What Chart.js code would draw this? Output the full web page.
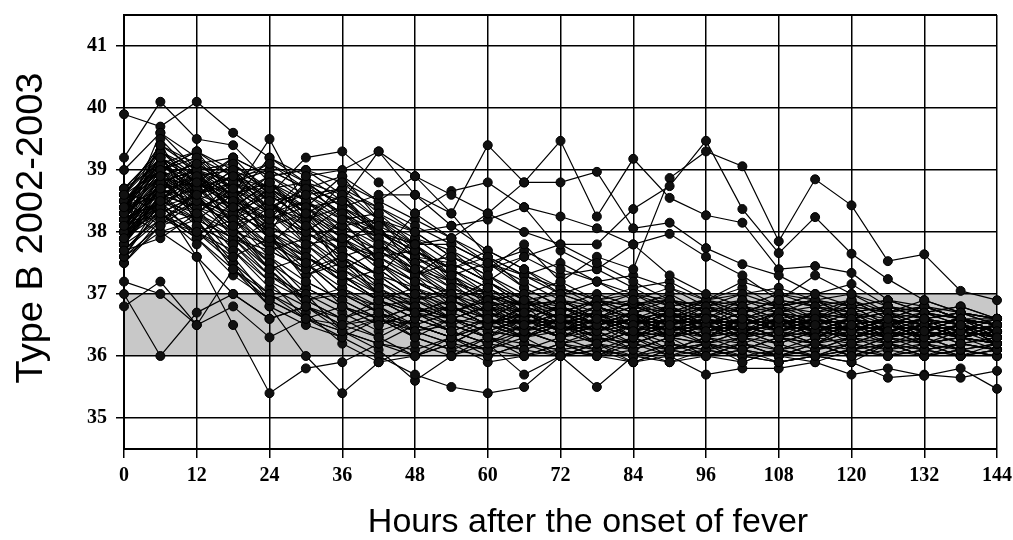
<!DOCTYPE html>
<html>
<head>
<meta charset="utf-8">
<script src="https://cdn.jsdelivr.net/npm/chart.js@4.4.1/dist/chart.umd.min.js"></script>
<style>
  html, body { margin: 0; padding: 0; background: #fff; }
  #wrap { width: 1013px; height: 540px; }
</style>
</head>
<body>
<div id="wrap"><canvas id="feverChart" width="1013" height="540"></canvas></div>
<script>
// 측정 시각 (발열 후 시간)
var hours = [0, 6, 12, 18, 24, 30, 36, 42, 48, 54, 60, 66, 72, 78, 84, 90, 96, 102, 108, 114, 120, 126, 132, 138, 144];
var xTicks = [0, 12, 24, 36, 48, 60, 72, 84, 96, 108, 120, 132, 144];
var yTicks = [35, 36, 37, 38, 39, 40, 41];
var xTitle = 'Hours after the onset of fever';
var yTitle = 'Type B 2002-2003';
var normalLow = 36;
var normalHigh = 37;

// 환자별 체온 (6시간 간격)
var pt01 = [38.1, 38.9, 38.3, 37.6, 36.9, 36.6, 36.8, 36.5, 36.7, 36.4, 36.6, 36.5, 36.3, 36.6, 36.4, 36.5, 36.3, 36.6, 36.4, 36.2, 36.5, 36.3, 36.4, 36.2, 36.3];
var pt02 = [38.4, 39.2, 38.8, 38.1, 37.4, 36.8, 36.5, 36.7, 36.3, 36.6, 36.8, 36.4, 36.6, 36.2, 36.5, 36.7, 36.4, 36.3, 36.6, 36.5, 36.2, 36.4, 36.3, 36.5, 36.4];
var pt03 = [37.9, 38.5, 39.1, 38.7, 38.0, 37.2, 36.9, 36.6, 36.8, 36.5, 36.3, 36.7, 36.5, 36.8, 36.6, 36.4, 36.6, 36.5, 36.3, 36.6, 36.4, 36.6, 36.2, 36.4, 36.5];
var pt04 = [38.6, 39.4, 38.6, 38.9, 38.5, 37.8, 37.3, 36.9, 36.6, 36.8, 36.5, 36.4, 36.7, 36.5, 36.3, 36.6, 36.5, 36.7, 36.4, 36.3, 36.5, 36.3, 36.6, 36.3, 36.2];
var pt05 = [37.7, 38.3, 37.8, 38.4, 38.8, 38.3, 37.6, 37.1, 36.7, 36.5, 36.7, 36.6, 36.4, 36.5, 36.7, 36.3, 36.4, 36.6, 36.5, 36.7, 36.4, 36.5, 36.4, 36.6, 36.3];
var pt06 = [38.3, 38.7, 39.2, 38.5, 38.9, 38.6, 38.2, 37.5, 37.0, 36.8, 36.6, 36.9, 36.5, 36.7, 36.4, 36.6, 36.3, 36.5, 36.6, 36.4, 36.6, 36.4, 36.5, 36.3, 36.4];
var pt07 = [38.0, 39.5, 38.9, 39.0, 38.3, 38.9, 38.5, 38.1, 37.4, 36.9, 36.7, 36.5, 36.8, 36.6, 36.5, 36.4, 36.6, 36.3, 36.5, 36.6, 36.3, 36.5, 36.6, 36.4, 36.5];
var pt08 = [38.5, 38.1, 38.5, 38.2, 38.7, 38.1, 38.8, 38.3, 37.8, 37.3, 36.8, 36.6, 36.4, 36.7, 36.5, 36.8, 36.5, 36.6, 36.4, 36.5, 36.7, 36.4, 36.3, 36.5, 36.2];
var pt09 = [37.6, 38.4, 38.0, 37.7, 37.2, 36.9, 36.6, 36.8, 36.4, 36.6, 36.3, 36.5, 36.7, 36.4, 36.6, 36.3, 36.5, 36.4, 36.6, 36.3, 36.4, 36.6, 36.5, 36.3, 36.4];
var pt10 = [38.2, 39.0, 39.3, 38.6, 37.9, 37.5, 37.0, 36.7, 36.5, 36.3, 36.5, 36.8, 36.6, 36.3, 36.5, 36.6, 36.4, 36.5, 36.3, 36.4, 36.6, 36.5, 36.3, 36.4, 36.3];
var pt11 = [38.7, 39.1, 38.7, 39.1, 38.6, 38.4, 37.9, 37.6, 37.2, 37.0, 36.7, 36.5, 36.6, 36.4, 36.7, 36.5, 36.3, 36.6, 36.5, 36.4, 36.5, 36.3, 36.4, 36.5, 36.4];
var pt12 = [37.8, 38.6, 38.4, 38.0, 38.4, 38.7, 38.3, 37.8, 37.5, 37.1, 36.9, 37.0, 36.7, 36.5, 36.6, 36.4, 36.6, 36.5, 36.7, 36.5, 36.3, 36.4, 36.6, 36.4, 36.5];
var pt13 = [38.3, 38.0, 37.6, 37.0, 36.6, 36.8, 36.4, 36.6, 36.5, 36.3, 36.6, 36.4, 36.5, 36.7, 36.3, 36.5, 36.6, 36.4, 36.5, 36.3, 36.6, 36.4, 36.5, 36.3, 36.2];
var pt14 = [38.0, 38.8, 39.0, 38.8, 39.1, 38.8, 38.6, 38.4, 38.0, 37.6, 37.3, 36.9, 36.6, 36.8, 36.5, 36.7, 36.5, 36.4, 36.6, 36.5, 36.4, 36.6, 36.3, 36.5, 36.3];
var pt15 = [38.4, 39.3, 38.1, 37.8, 38.2, 37.6, 37.2, 37.4, 37.0, 36.7, 36.5, 36.8, 36.4, 36.6, 36.9, 36.5, 36.7, 36.4, 36.5, 36.7, 36.4, 36.3, 36.5, 36.4, 36.6];
var pt16 = [37.5, 38.2, 38.6, 39.0, 38.5, 38.0, 37.7, 37.3, 36.9, 36.6, 36.8, 36.6, 36.3, 36.5, 36.6, 36.4, 36.5, 36.7, 36.4, 36.6, 36.5, 36.6, 36.4, 36.3, 36.4];
var pt17 = [38.6, 38.5, 39.0, 38.3, 37.7, 37.4, 36.8, 36.5, 36.7, 36.6, 36.4, 36.3, 36.5, 36.6, 36.4, 36.7, 36.4, 36.5, 36.7, 36.4, 36.3, 36.5, 36.6, 36.5, 36.3];
var pt18 = [38.2, 39.6, 39.2, 38.7, 38.1, 38.3, 37.9, 37.4, 37.0, 36.6, 36.4, 36.6, 36.8, 36.5, 36.3, 36.6, 36.7, 36.4, 36.6, 36.3, 36.5, 36.4, 36.5, 36.6, 36.5];
var pt19 = [37.9, 38.6, 38.9, 38.4, 38.8, 38.5, 38.7, 38.2, 37.7, 37.4, 37.1, 36.7, 36.5, 36.4, 36.6, 36.5, 36.3, 36.6, 36.5, 36.7, 36.4, 36.5, 36.3, 36.4, 36.3];
var pt20 = [38.5, 39.0, 38.4, 38.6, 37.9, 37.3, 37.6, 37.0, 36.7, 36.9, 36.6, 36.4, 36.6, 36.5, 36.7, 36.4, 36.6, 36.3, 36.4, 36.5, 36.6, 36.4, 36.5, 36.3, 36.4];
var pt21 = [38.1, 38.4, 38.2, 37.4, 37.0, 36.6, 36.5, 36.3, 36.6, 36.4, 36.2, 36.5, 36.3, 36.4, 36.5, 36.3, 36.4, 36.5, 36.3, 36.4, 36.5, 36.2, 36.3, 36.4, 36.2];
var pt22 = [38.3, 38.9, 39.1, 39.2, 38.9, 39.0, 38.6, 37.9, 37.3, 36.8, 36.5, 36.7, 36.4, 36.6, 36.3, 36.5, 36.6, 36.4, 36.5, 36.4, 36.3, 36.5, 36.4, 36.3, 36.5];
var pt23 = [37.7, 37.9, 38.3, 38.8, 38.3, 38.5, 38.1, 38.2, 37.6, 37.5, 37.2, 36.8, 36.9, 36.6, 36.5, 36.6, 36.5, 36.6, 36.4, 36.6, 36.5, 36.3, 36.5, 36.6, 36.4];
var pt24 = [38.0, 39.2, 38.5, 38.1, 37.5, 36.9, 37.1, 36.7, 36.4, 36.2, 36.5, 36.3, 36.6, 36.4, 36.2, 36.4, 36.5, 36.3, 36.6, 36.3, 36.5, 36.4, 36.2, 36.3, 36.5];
var pt25 = [38.4, 38.7, 38.8, 38.5, 38.3, 38.0, 38.4, 37.8, 37.3, 37.7, 37.2, 36.8, 36.6, 36.7, 36.4, 36.3, 36.5, 36.7, 36.5, 36.5, 36.4, 36.6, 36.4, 36.5, 36.4];
var pt26 = [37.6, 38.1, 38.7, 38.9, 38.6, 38.2, 37.5, 37.2, 36.8, 36.6, 36.4, 36.6, 36.5, 36.3, 36.5, 36.7, 36.4, 36.5, 36.3, 36.5, 36.6, 36.3, 36.4, 36.6, 36.3];
var pt27 = [38.6, 39.3, 39.0, 38.3, 38.6, 38.2, 37.8, 37.5, 37.1, 36.7, 36.9, 36.5, 36.7, 36.5, 36.6, 36.4, 36.6, 36.5, 36.6, 36.4, 36.6, 36.5, 36.4, 36.5, 36.3];
var pt28 = [38.2, 38.5, 37.9, 38.5, 38.0, 38.8, 38.2, 38.0, 37.8, 37.2, 36.7, 36.9, 36.6, 36.8, 36.6, 36.5, 36.3, 36.4, 36.6, 36.5, 36.4, 36.6, 36.5, 36.4, 36.6];
var pt29 = [37.8, 38.8, 38.6, 37.9, 37.3, 37.0, 36.7, 36.4, 36.6, 36.8, 36.5, 36.7, 36.4, 36.6, 36.4, 36.6, 36.5, 36.4, 36.5, 36.6, 36.4, 36.6, 36.5, 36.4, 36.3];
var pt30 = [38.5, 39.1, 38.6, 39.0, 38.5, 37.9, 37.4, 37.7, 37.4, 37.0, 36.6, 36.4, 36.6, 36.4, 36.6, 36.7, 36.5, 36.6, 36.4, 36.6, 36.5, 36.4, 36.5, 36.6, 36.4];
var pt31 = [39.9, 39.7, 40.1, 39.6, 39.2, 38.8, 38.4, 38.0, 37.6, 37.2, 36.9, 36.7, 36.8, 36.6, 36.5, 36.7, 36.6, 36.4, 36.5, 36.6, 36.4, 36.5, 36.3, 36.4, 36.3];
var pt32 = [39.2, 40.1, 39.5, 39.4, 38.8, 38.2, 37.4, 37.0, 36.8, 36.6, 36.5, 36.8, 36.6, 36.7, 36.4, 36.5, 36.6, 36.4, 36.7, 36.5, 36.3, 36.4, 36.5, 36.3, 36.4];
var pt33 = [39.0, 39.6, 39.0, 38.6, 39.5, 38.4, 38.9, 38.2, 37.8, 37.4, 37.0, 36.8, 36.6, 36.9, 36.7, 36.5, 36.8, 36.6, 36.4, 36.7, 36.6, 36.3, 36.5, 36.6, 36.4];
var pt34 = [38.7, 39.3, 38.8, 39.2, 38.6, 39.2, 39.3, 38.8, 38.3, 37.9, 37.5, 37.2, 36.9, 36.8, 36.6, 36.7, 36.5, 36.8, 36.6, 36.4, 36.5, 36.6, 36.4, 36.5, 36.2];
var pt35 = [38.4, 39.0, 39.3, 38.9, 39.0, 38.7, 38.5, 39.3, 38.9, 38.6, 38.3, 38.0, 37.8, 37.5, 37.2, 36.9, 36.8, 36.6, 36.5, 36.7, 36.6, 36.4, 36.5, 36.3, 36.4];
var pt36 = [38.0, 38.8, 38.4, 38.2, 37.8, 38.3, 38.0, 37.6, 38.3, 38.66, 38.8, 38.4, 38.25, 38.06, 37.8, 37.97, 37.6, 37.3, 36.9, 37.3, 37.0, 36.7, 36.5, 36.6, 36.4];
var pt37 = [37.8, 38.6, 38.9, 38.4, 38.2, 38.8, 38.4, 38.6, 38.6, 38.3, 39.4, 38.8, 38.8, 38.97, 38.06, 38.15, 37.74, 37.48, 37.3, 37.0, 37.16, 36.8, 36.6, 36.5, 36.4];
var pt38 = [38.2, 38.9, 38.6, 38.8, 38.4, 38.2, 38.6, 38.0, 37.8, 37.9, 38.3, 38.8, 39.47, 38.25, 39.18, 38.55, 38.27, 38.15, 37.4, 37.45, 37.34, 36.9, 36.7, 36.6, 36.5];
var pt39 = [38.3, 38.4, 38.9, 38.1, 38.5, 38.0, 37.6, 37.3, 37.9, 37.5, 37.2, 37.6, 37.8, 37.8, 38.37, 38.74, 39.47, 38.37, 37.66, 38.24, 37.65, 37.24, 36.9, 36.7, 36.6];
var pt40 = [38.1, 38.5, 38.2, 38.6, 38.1, 37.7, 38.2, 38.3, 38.0, 37.6, 37.4, 37.8, 37.2, 37.6, 37.4, 38.87, 39.3, 39.06, 37.85, 38.85, 38.43, 37.53, 37.64, 37.05, 36.9];
var pt41 = [38.5, 39.1, 38.7, 39.2, 38.9, 39.0, 38.8, 38.5, 38.9, 38.3, 37.6, 37.1, 36.8, 36.6, 36.7, 36.5, 36.4, 36.6, 36.5, 36.4, 36.5, 36.4, 36.3, 36.5, 36.4];
var pt42 = [38.0, 38.7, 39.0, 38.5, 39.2, 38.9, 39.0, 39.3, 38.6, 38.1, 37.7, 37.4, 37.0, 36.8, 36.6, 36.5, 36.7, 36.5, 36.4, 36.6, 36.4, 36.5, 36.6, 36.3, 36.5];
var pt43 = [37.9, 38.3, 38.0, 37.6, 37.9, 37.4, 37.8, 38.2, 38.0, 38.1, 38.2, 38.4, 37.7, 37.4, 37.8, 37.3, 37.0, 36.8, 36.7, 36.6, 36.9, 36.6, 36.5, 36.4, 36.5];
var pt44 = [37.0, 36.0, 36.7, 37.0, 36.6, 36.8, 36.5, 36.6, 36.4, 36.5, 36.3, 36.6, 36.4, 36.5, 36.3, 36.4, 36.5, 36.3, 36.4, 36.5, 36.3, 36.4, 36.5, 36.3, 36.2];
var pt45 = [36.8, 37.2, 36.5, 37.4, 36.8, 36.5, 36.3, 36.6, 36.4, 36.2, 36.5, 36.3, 36.4, 36.2, 36.4, 36.3, 36.2, 36.4, 36.3, 36.2, 36.4, 36.3, 36.2, 36.3, 36.1];
var pt46 = [37.2, 37.0, 36.5, 36.8, 36.3, 36.6, 36.4, 36.2, 36.5, 36.3, 36.1, 36.4, 36.2, 36.3, 36.1, 36.3, 36.2, 36.1, 36.3, 36.2, 36.0, 36.2, 36.1, 36.2, 36.1];
var pt47 = [38.0, 38.5, 37.6, 36.5, 35.4, 35.8, 35.9, 36.2, 36.0, 36.3, 36.1, 36.0, 36.2, 36.0, 36.1, 35.9, 36.0, 36.1, 35.9, 36.0, 36.1, 36.2, 36.0, 36.1, 36.0];
var pt48 = [38.3, 38.9, 38.2, 37.5, 36.8, 36.0, 35.4, 35.9, 36.2, 36.0, 36.3, 36.1, 36.0, 36.2, 35.9, 36.1, 36.2, 35.9, 36.1, 36.0, 35.9, 36.2, 36.0, 36.1, 36.0];
var pt49 = [38.1, 38.7, 38.3, 37.8, 37.2, 36.6, 36.3, 36.0, 35.7, 35.5, 35.4, 35.5, 36.0, 36.1, 36.0, 36.2, 36.0, 36.1, 36.0, 35.9, 36.1, 36.2, 36.0, 36.1, 36.0];
var pt50 = [37.9, 38.4, 38.6, 38.2, 37.6, 37.0, 36.4, 36.1, 35.6, 36.0, 36.2, 35.7, 36.0, 35.5, 36.0, 35.9, 36.1, 36.0, 35.9, 36.0, 36.1, 36.0, 36.2, 36.0, 36.1];
var pt51 = [38.6, 38.3, 37.9, 37.4, 36.9, 36.6, 36.4, 36.2, 36.1, 36.3, 36.0, 36.2, 36.1, 36.0, 36.2, 36.0, 35.7, 35.8, 35.8, 35.9, 35.7, 35.8, 35.68, 35.8, 35.47];
var pt52 = [38.2, 39.0, 38.6, 38.0, 37.4, 36.9, 36.6, 36.3, 36.0, 36.2, 36.1, 36.3, 36.0, 36.1, 35.9, 36.0, 36.1, 36.0, 35.9, 36.0, 35.9, 35.65, 35.7, 35.65, 35.76];
var pt53 = [37.8, 38.2, 38.0, 37.5, 37.0, 36.7, 36.2, 35.9, 36.0, 36.2, 35.9, 36.0, 36.1, 36.0, 35.9, 36.1, 36.0, 35.9, 36.1, 36.0, 36.1, 36.0, 36.1, 36.0, 36.1];
var pt54 = [38.2, 38.6, 38.1, 37.8, 37.3, 36.9, 37.0, 36.8, 36.9, 36.7, 36.95, 36.8, 36.9, 36.7, 36.85, 36.9, 36.8, 36.7, 36.9, 36.8, 36.7, 36.8, 36.6, 36.7, 36.5];
var pt55 = [37.9, 38.7, 38.8, 38.4, 37.9, 37.6, 37.3, 37.0, 36.9, 37.1, 36.8, 36.9, 37.0, 36.8, 36.9, 36.7, 36.9, 36.8, 37.0, 36.8, 36.9, 36.7, 36.8, 36.6, 36.6];
var pt56 = [38.4, 39.0, 38.5, 38.3, 38.0, 37.7, 37.2, 36.9, 36.6, 36.4, 36.2, 36.1, 36.3, 36.1, 36.0, 36.2, 36.1, 36.2, 36.0, 36.1, 36.2, 36.0, 36.1, 36.2, 36.1];
var pt57 = [38.0, 38.9, 38.7, 38.9, 38.7, 38.4, 38.1, 37.7, 37.4, 37.2, 37.0, 36.8, 37.1, 36.9, 36.7, 36.8, 36.9, 36.6, 36.8, 36.9, 36.7, 36.8, 36.7, 36.6, 36.5];
var pt58 = [38.6, 39.4, 39.1, 38.8, 38.5, 38.6, 38.3, 38.0, 37.6, 37.3, 37.5, 37.1, 36.8, 37.0, 36.8, 36.6, 36.8, 36.9, 36.7, 36.6, 36.8, 36.7, 36.6, 36.5, 36.6];
var pt59 = [37.6, 38.0, 38.2, 37.9, 37.7, 37.4, 37.6, 37.3, 37.1, 36.9, 37.2, 36.9, 36.7, 36.9, 37.0, 36.8, 36.6, 36.9, 36.8, 36.6, 36.7, 36.6, 36.8, 36.6, 36.5];
var pt60 = [38.3, 39.2, 38.9, 38.6, 38.8, 38.4, 38.5, 38.0, 37.7, 37.4, 37.1, 36.8, 36.6, 36.3, 36.2, 36.1, 36.3, 36.2, 36.0, 36.2, 36.1, 36.3, 36.2, 36.1, 36.2];
var pt61 = [38.1, 38.8, 39.0, 38.7, 38.4, 38.6, 38.7, 38.4, 38.1, 37.8, 37.5, 37.7, 37.4, 37.2, 37.0, 36.9, 36.7, 36.8, 36.6, 36.7, 36.5, 36.6, 36.7, 36.5, 36.4];
var pt62 = [38.5, 38.9, 38.3, 37.9, 37.6, 37.2, 36.9, 36.6, 36.3, 36.1, 36.3, 36.0, 36.2, 36.1, 36.3, 36.0, 36.2, 36.1, 36.0, 36.2, 36.0, 36.1, 36.0, 36.2, 36.1];
var pt63 = [37.8, 38.5, 38.7, 38.2, 38.5, 38.1, 37.8, 37.6, 37.7, 37.4, 37.6, 37.3, 37.5, 37.2, 37.3, 37.1, 36.9, 37.2, 37.0, 36.9, 37.0, 36.8, 36.7, 36.8, 36.6];
var pt64 = [38.4, 39.1, 39.3, 39.0, 38.7, 38.3, 37.8, 37.5, 37.2, 36.9, 36.7, 36.5, 36.3, 36.5, 36.2, 36.4, 36.2, 36.3, 36.1, 36.3, 36.2, 36.4, 36.2, 36.3, 36.2];
var pt65 = [37.7, 38.3, 38.6, 38.8, 39.0, 38.7, 38.9, 38.5, 38.2, 37.9, 37.6, 37.3, 37.1, 36.9, 36.8, 37.0, 36.7, 36.9, 36.8, 36.7, 36.9, 36.6, 36.8, 36.6, 36.5];
var pt66 = [38.2, 38.6, 38.4, 37.7, 37.1, 36.8, 36.6, 36.9, 36.7, 36.8, 36.6, 36.9, 36.7, 36.9, 36.8, 36.6, 36.9, 36.7, 36.8, 36.9, 36.6, 36.7, 36.8, 36.6, 36.5];
var pt67 = [38.6, 39.2, 38.6, 38.4, 38.1, 37.8, 37.4, 37.1, 36.8, 36.5, 36.3, 36.2, 36.1, 36.2, 36.0, 36.1, 36.2, 36.0, 36.1, 36.2, 36.0, 36.2, 36.1, 36.0, 36.2];
var pt68 = [37.9, 38.4, 38.8, 38.6, 38.9, 38.5, 38.2, 37.9, 37.5, 37.6, 37.3, 37.0, 37.2, 36.9, 37.1, 36.8, 36.9, 36.7, 36.9, 36.8, 36.6, 36.8, 36.6, 36.7, 36.5];
var pt69 = [38.3, 38.7, 38.9, 38.3, 37.8, 37.5, 37.0, 36.7, 36.5, 36.7, 36.9, 36.6, 36.8, 36.5, 36.7, 36.9, 36.6, 36.8, 36.5, 36.7, 36.8, 36.5, 36.6, 36.7, 36.6];
var pt70 = [38.0, 38.5, 38.3, 38.7, 38.3, 38.0, 37.6, 37.8, 37.5, 37.2, 37.0, 36.7, 36.4, 36.6, 36.3, 36.5, 36.2, 36.4, 36.3, 36.1, 36.3, 36.4, 36.2, 36.3, 36.2];
var pt71 = [38.7, 39.3, 38.9, 38.6, 38.2, 38.4, 38.0, 37.7, 37.3, 37.0, 36.8, 36.5, 36.7, 36.4, 36.6, 36.4, 36.7, 36.5, 36.3, 36.5, 36.6, 36.4, 36.5, 36.4, 36.3];
var pt72 = [37.5, 38.1, 38.3, 38.0, 37.5, 37.1, 36.8, 36.6, 36.3, 36.1, 36.0, 36.2, 36.0, 36.2, 36.1, 36.3, 36.0, 36.2, 36.1, 36.0, 36.2, 36.1, 36.3, 36.1, 36.0];
var pt73 = [38.4, 38.9, 38.5, 38.8, 38.6, 38.2, 38.4, 38.1, 37.8, 37.8, 37.5, 37.3, 37.0, 37.2, 36.9, 37.1, 36.8, 37.0, 36.8, 36.9, 36.8, 36.9, 36.7, 36.8, 36.6];
var pt74 = [38.1, 38.3, 37.9, 37.3, 36.9, 37.1, 36.8, 36.6, 36.8, 36.6, 36.8, 36.7, 36.9, 36.6, 36.8, 36.7, 36.8, 36.6, 36.7, 36.8, 36.7, 36.5, 36.7, 36.6, 36.4];
var pt75 = [38.5, 39.0, 39.2, 38.9, 38.4, 38.1, 37.7, 37.3, 36.9, 36.6, 36.4, 36.3, 36.5, 36.2, 36.4, 36.1, 36.3, 36.4, 36.2, 36.4, 36.1, 36.3, 36.4, 36.2, 36.3];
var pt76 = [37.8, 38.7, 38.5, 38.1, 38.3, 37.9, 38.1, 37.8, 37.4, 37.1, 36.9, 37.0, 36.7, 36.9, 36.6, 36.8, 36.5, 36.7, 36.9, 36.6, 36.8, 36.5, 36.7, 36.5, 36.4];
var pt77 = [38.3, 38.8, 38.6, 38.9, 39.1, 38.7, 38.3, 37.9, 37.6, 37.3, 36.9, 36.7, 36.5, 36.7, 36.4, 36.6, 36.8, 36.5, 36.7, 36.4, 36.6, 36.7, 36.4, 36.6, 36.5];
var pt78 = [38.0, 38.4, 38.0, 38.2, 37.7, 37.9, 37.5, 37.2, 36.9, 37.0, 36.7, 36.4, 36.2, 36.4, 36.1, 36.3, 36.5, 36.2, 36.4, 36.2, 36.3, 36.2, 36.4, 36.3, 36.2];
var pt79 = [38.6, 39.0, 38.7, 38.3, 38.7, 38.3, 37.9, 38.0, 37.7, 37.4, 37.7, 37.4, 37.1, 36.8, 37.0, 36.7, 36.9, 37.1, 36.8, 37.0, 36.8, 36.7, 36.9, 36.7, 36.6];
var pt80 = [37.7, 38.2, 38.5, 38.3, 38.0, 37.6, 37.3, 36.9, 36.7, 36.4, 36.6, 36.3, 36.5, 36.3, 36.2, 36.4, 36.3, 36.1, 36.3, 36.2, 36.4, 36.2, 36.3, 36.1, 36.2];
var pt81 = [38.2, 39.1, 38.8, 38.5, 38.2, 38.5, 38.0, 37.6, 37.3, 37.5, 37.2, 36.9, 36.8, 36.6, 36.9, 36.6, 36.4, 36.6, 36.8, 36.5, 36.7, 36.4, 36.6, 36.5, 36.4];
var pt82 = [38.4, 38.6, 38.2, 37.9, 37.4, 37.6, 37.2, 36.9, 37.1, 36.8, 36.5, 36.7, 36.4, 36.2, 36.4, 36.2, 36.1, 36.3, 36.2, 36.0, 36.2, 36.3, 36.1, 36.2, 36.1];
var pt83 = [37.9, 38.9, 39.1, 38.7, 38.3, 37.8, 37.9, 37.5, 37.2, 36.9, 37.1, 36.8, 36.9, 36.6, 36.8, 36.9, 36.7, 36.5, 36.7, 36.9, 36.6, 36.7, 36.5, 36.6, 36.5];
var pt84 = [38.5, 39.2, 38.8, 38.4, 37.9, 37.6, 37.3, 36.9, 36.6, 36.4, 36.2, 36.4, 36.2, 36.0, 36.3, 36.1, 36.0, 36.2, 36.0, 36.1, 36.3, 36.1, 36.2, 36.0, 36.1];
var pt85 = [38.1, 38.7, 38.4, 38.6, 38.8, 38.3, 38.6, 38.2, 37.9, 37.7, 37.4, 37.6, 37.3, 37.4, 37.1, 37.2, 36.9, 37.0, 37.1, 36.9, 36.8, 36.9, 36.8, 36.7, 36.6];
var pt86 = [37.6, 38.5, 38.9, 38.5, 38.0, 37.5, 37.1, 36.8, 36.5, 36.3, 36.5, 36.6, 36.3, 36.5, 36.7, 36.3, 36.5, 36.4, 36.6, 36.3, 36.5, 36.6, 36.3, 36.4, 36.3];
var pt87 = [38.3, 39.4, 39.0, 39.1, 38.7, 38.8, 38.4, 38.0, 37.7, 37.3, 37.0, 36.6, 36.8, 36.5, 36.7, 36.5, 36.3, 36.5, 36.7, 36.4, 36.6, 36.5, 36.4, 36.5, 36.3];
var pt88 = [38.0, 38.3, 38.6, 38.0, 37.8, 37.3, 37.5, 37.0, 36.7, 36.9, 36.6, 36.3, 36.6, 36.4, 36.6, 36.3, 36.6, 36.4, 36.2, 36.4, 36.3, 36.5, 36.3, 36.5, 36.2];

var patients = [pt01, pt02, pt03, pt04, pt05, pt06, pt07, pt08, pt09, pt10,
    pt11, pt12, pt13, pt14, pt15, pt16, pt17, pt18, pt19, pt20,
    pt21, pt22, pt23, pt24, pt25, pt26, pt27, pt28, pt29, pt30,
    pt31, pt32, pt33, pt34, pt35, pt36, pt37, pt38, pt39, pt40,
    pt41, pt42, pt43, pt44, pt45, pt46, pt47, pt48, pt49, pt50,
    pt51, pt52, pt53, pt54, pt55, pt56, pt57, pt58, pt59, pt60,
    pt61, pt62, pt63, pt64, pt65, pt66, pt67, pt68, pt69, pt70,
    pt71, pt72, pt73, pt74, pt75, pt76, pt77, pt78, pt79, pt80,
    pt81, pt82, pt83, pt84, pt85, pt86, pt87, pt88];

// 정상 체온 밴드, 위 테두리, 축 제목
var decorPlugin = {
    id: 'decor',
    beforeDraw: function (chart) {
        var ctx = chart.ctx;
        var area = chart.chartArea;
        var y = chart.scales.y;
        var top = y.getPixelForValue(normalHigh);
        var bottom = y.getPixelForValue(normalLow);
        ctx.save();
        ctx.fillStyle = '#c8c8c8';
        ctx.fillRect(area.left, top, area.right - area.left, bottom - top);
        ctx.restore();
    },
    afterDraw: function (chart) {
        var ctx = chart.ctx;
        var area = chart.chartArea;
        ctx.save();
        ctx.strokeStyle = '#000';
        ctx.lineWidth = 2;
        ctx.beginPath();
        ctx.moveTo(area.left, area.top);
        ctx.lineTo(area.right, area.top);
        ctx.stroke();

        ctx.fillStyle = '#000';
        ctx.textBaseline = 'alphabetic';
        ctx.textAlign = 'center';

        // x축 제목
        ctx.font = '34px "Liberation Sans", Arial, sans-serif';
        ctx.fillText(xTitle, 588, 532);

        // y축 제목
        ctx.font = '36px "Liberation Sans", Arial, sans-serif';
        var h = ctx.measureText(yTitle).width;
        ctx.save();
        ctx.translate(42, 228);
        ctx.rotate(-Math.PI / 2);
        ctx.scale(311 / h, 1);
        ctx.fillText(yTitle, 0, 0);
        ctx.restore();
        ctx.restore();
    }
};

var datasets = patients.map(function (temps) {
    return {
        data: hours.map(function (h, i) { return { x: h, y: temps[i] }; }),
        borderColor: '#000',
        borderWidth: 1.2,
        pointRadius: 4.5,
        pointBackgroundColor: '#111',
        pointBorderColor: '#000',
        pointBorderWidth: 1,
        fill: false,
        tension: 0,
        clip: false
    };
});

var tickFont = { family: "'Liberation Serif', 'Times New Roman', serif", size: 20, weight: 'bold' };

var ctx = document.getElementById('feverChart').getContext('2d');
new Chart(ctx, {
    type: 'line',
    data: { datasets: datasets },
    plugins: [decorPlugin],
    options: {
        responsive: false,
        animation: false,
        layout: { padding: { top: 15, right: 16, left: 0, bottom: 0 } },
        plugins: {
            legend: { display: false },
            tooltip: { enabled: false }
        },
        scales: {
            x: {
                type: 'linear',
                min: xTicks[0],
                max: xTicks[xTicks.length - 1],
                afterBuildTicks: function (scale) {
                    scale.ticks = xTicks.map(function (v) { return { value: v }; });
                },
                afterFit: function (scale) {
                    scale.height = 91;
                    scale.paddingLeft = 0;
                    scale.paddingRight = 0;
                },
                ticks: { color: '#000', font: tickFont, padding: 6, maxRotation: 0, autoSkip: false },
                grid: { color: '#000', lineWidth: 1.5, tickLength: 9 },
                border: { color: '#000', width: 2 }
            },
            y: {
                min: 34.5,
                max: 41.5,
                afterBuildTicks: function (scale) {
                    scale.ticks = yTicks.map(function (v) { return { value: v }; });
                },
                afterFit: function (scale) {
                    scale.width = 124;
                    scale.paddingTop = 0;
                    scale.paddingBottom = 0;
                },
                ticks: { color: '#000', font: tickFont, padding: 9 },
                grid: { color: '#000', lineWidth: 1.5, tickLength: 8 },
                border: { color: '#000', width: 2 }
            }
        }
    }
});
</script>
</body>
</html>
